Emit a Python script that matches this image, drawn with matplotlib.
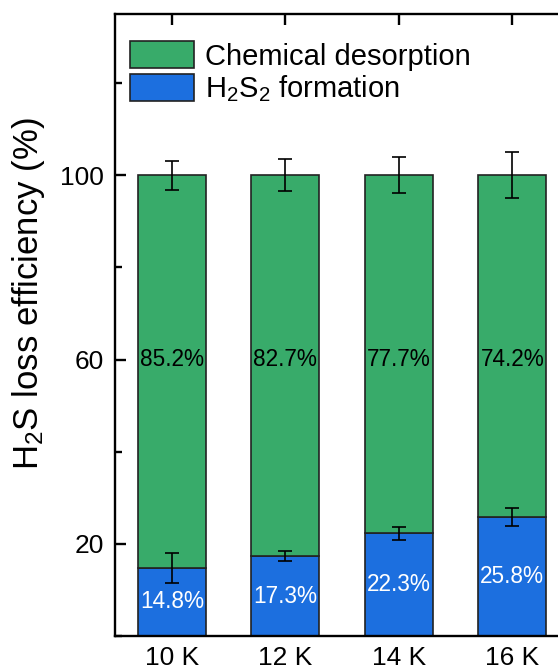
import numpy as np
import matplotlib
matplotlib.use('Agg')
import matplotlib.pyplot as plt
from matplotlib.ticker import MultipleLocator

plt.rcParams['font.family'] = ['Liberation Sans', 'DejaVu Sans']
plt.rcParams['mathtext.fontset'] = 'custom'
plt.rcParams['mathtext.rm'] = 'Liberation Sans'
plt.rcParams['mathtext.default'] = 'regular'

# Datos
temps = ['10 K', '12 K', '14 K', '16 K']
h2s2 = [14.8, 17.3, 22.3, 25.8]
desorption = [85.2, 82.7, 77.7, 74.2]
h2s2_err = [3.2, 1.1, 1.4, 2.0]
total_err = [3.2, 3.5, 3.9, 5.0]

green = '#38ab6a'
blue = '#1c6fdf'

fig = plt.figure(figsize=(5.58, 6.71), dpi=100)
ax = fig.add_axes([115/558, 1 - 636/671, 454/558, 622/671])

x = np.arange(len(temps))
ax.bar(x, h2s2, width=0.6, color=blue, edgecolor='#222222', linewidth=1.2,
       label='H$_2$S$_2$ formation', zorder=2)
ax.bar(x, desorption, width=0.6, bottom=h2s2, color=green, edgecolor='#222222',
       linewidth=1.2, label='Chemical desorption', zorder=2)

# Barras de error
tot = np.array(h2s2) + np.array(desorption)
ax.errorbar(x, h2s2, yerr=h2s2_err, fmt='none', ecolor='black', elinewidth=1.2,
            capsize=4.7, capthick=1.2, zorder=3)
ax.errorbar(x, tot, yerr=total_err, fmt='none', ecolor='black', elinewidth=1.2,
            capsize=4.7, capthick=1.2, zorder=3)

# Etiquetas de porcentaje
for i in range(len(temps)):
    ax.text(x[i], 60, f'{desorption[i]:.1f}%', ha='center', va='center',
            fontsize=16.3, color='black', zorder=4)
    ax.text(x[i], h2s2[i] / 2, f'{h2s2[i]:.1f}%', ha='center', va='center',
            fontsize=16.3, color='white', zorder=4)

ax.set_xlim(-0.5, 3.5)
ax.set_ylim(0, 135)
ax.set_xticks(x)
ax.set_xticklabels(temps)
ax.yaxis.set_major_locator(MultipleLocator(40, offset=20))
ax.yaxis.set_minor_locator(MultipleLocator(20))
ax.tick_params(which='both', direction='in', top=True, right=True, width=1.7,
               labelsize=19)
ax.tick_params(which='major', length=7.8)
ax.tick_params(which='minor', length=5)
ax.tick_params(axis='x', which='minor', top=False, bottom=False)
ax.tick_params(axis='x', pad=7)
ax.tick_params(axis='y', pad=8)
for s in ax.spines.values():
    s.set_linewidth(1.7)

ax.set_ylabel('H$_2$S loss efficiency (%)', fontsize=25)
ax.yaxis.set_label_coords(-0.149, 0.5506)

handles, labels = ax.get_legend_handles_labels()
ax.legend(handles[::-1], labels[::-1], loc='upper left', frameon=False,
          bbox_to_anchor=(0.033, 0.9566), borderaxespad=0, borderpad=0,
          fontsize=21, handlelength=2.19, handleheight=1.06, labelspacing=0.1,
          handletextpad=0.38)

fig.savefig('out.png', dpi=100)
